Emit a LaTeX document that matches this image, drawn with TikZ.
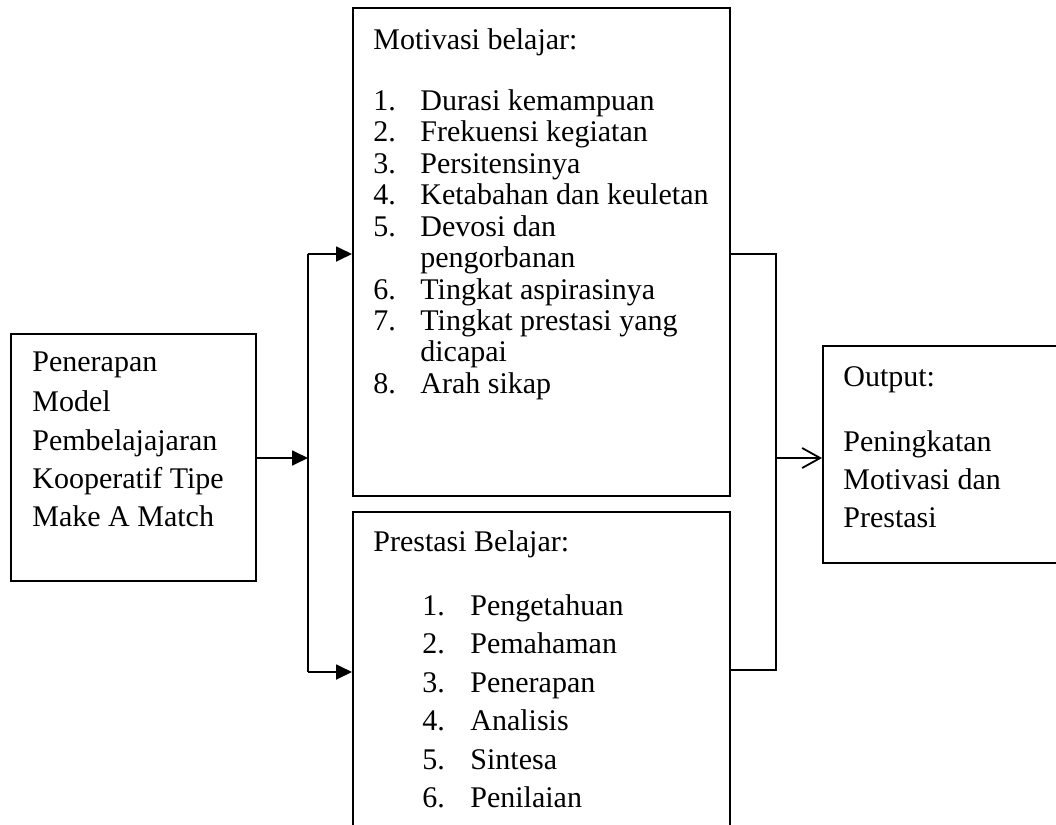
\documentclass[tikz,border=0pt]{standalone}
\usepackage{fontspec}
\setmainfont{Liberation Serif}
\usetikzlibrary{arrows.meta,fit}
\begin{document}
\begin{tikzpicture}[x=0.5pt,y=-0.5pt,
  box/.style={draw,line width=1pt,inner sep=0pt,rectangle},
  txt/.style={anchor=base west,inner sep=0pt,font=\fontsize{15}{18}\selectfont},
  conn/.style={line width=0.9pt},
  tri/.style={conn,-{Triangle[length=8pt,width=7.5pt]}},
  openarrow/.style={conn,-{Straight Barb[length=9pt,width=10pt,line width=0.9pt]}}]
\useasboundingbox (0,0) rectangle (1056,825);
\clip (0,0) rectangle (1056,825);
% boxes
\node[box,fit={(11,334)(256,581)}] (L) {};
\node[box,fit={(353,8)(730,496)}] (M) {};
\node[box,fit={(353,512)(730,870)}] (P) {};
\node[box,fit={(823,346)(1090,563)}] (O) {};
% left box text
\node[txt] (l1) at (32,371) {Penerapan};
\node[txt] (l2) at (32,411) {Model};
\node[txt] (l3) at (32,450) {Pembelajajaran};
\node[txt] (l4) at (32,488) {Kooperatif Tipe};
\node[txt] (l5) at (32,526) {Make A Match};
% motivasi text
\node[txt] (mt) at (373,49) {Motivasi belajar:};
\node[txt] (mn1) at (373,110) {1.}; \node[txt] (mi1) at (420,110) {Durasi kemampuan};
\node[txt] (mn2) at (373,141) {2.}; \node[txt] (mi2) at (420,141) {Frekuensi kegiatan};
\node[txt] (mn3) at (373,173) {3.}; \node[txt] (mi3) at (420,173) {Persitensinya};
\node[txt] (mn4) at (373,204) {4.}; \node[txt] (mi4) at (420,204) {Ketabahan dan keuletan};
\node[txt] (mn5) at (373,236) {5.}; \node[txt] (mi5) at (420,236) {Devosi dan};
\node[txt] (mi5b) at (420,267) {pengorbanan};
\node[txt] (mn6) at (373,299) {6.}; \node[txt] (mi6) at (420,299) {Tingkat aspirasinya};
\node[txt] (mn7) at (373,330) {7.}; \node[txt] (mi7) at (420,330) {Tingkat prestasi yang};
\node[txt] (mi7b) at (420,361) {dicapai};
\node[txt] (mn8) at (373,393) {8.}; \node[txt] (mi8) at (420,393) {Arah sikap};
% prestasi text
\node[txt] (pt) at (373,551) {Prestasi Belajar:};
\node[txt] (pn1) at (422,615) {1.}; \node[txt] (pi1) at (470,615) {Pengetahuan};
\node[txt] (pn2) at (422,653.5) {2.}; \node[txt] (pi2) at (470,653.5) {Pemahaman};
\node[txt] (pn3) at (422,692) {3.}; \node[txt] (pi3) at (470,692) {Penerapan};
\node[txt] (pn4) at (422,730.5) {4.}; \node[txt] (pi4) at (470,730.5) {Analisis};
\node[txt] (pn5) at (422,769) {5.}; \node[txt] (pi5) at (470,769) {Sintesa};
\node[txt] (pn6) at (422,807.5) {6.}; \node[txt] (pi6) at (470,807.5) {Penilaian};
% output text
\node[txt] (ot) at (843,386) {Output:};
\node[txt] (o1) at (843,451) {Peningkatan};
\node[txt] (o2) at (843,489) {Motivasi dan};
\node[txt] (o3) at (843,527) {Prestasi};
% connectors
\coordinate (jL) at (308,458);
\coordinate (jT) at (308,254);
\coordinate (jB) at (308,672);
\coordinate (kT) at (776,254);
\coordinate (kB) at (776,670);
\coordinate (kM) at (776,458);
\draw[tri] (jL -| L.east) -- (jL);
\draw[conn] (jT) -- (jB);
\draw[tri] (jT) -- (jT -| M.west);
\draw[tri] (jB) -- (jB -| P.west);
\draw[conn] (kT -| M.east) -- (kT) -- (kB) -- (kB -| P.east);
\draw[openarrow] (kM) -- (kM -| O.west);
\end{tikzpicture}
\end{document}
